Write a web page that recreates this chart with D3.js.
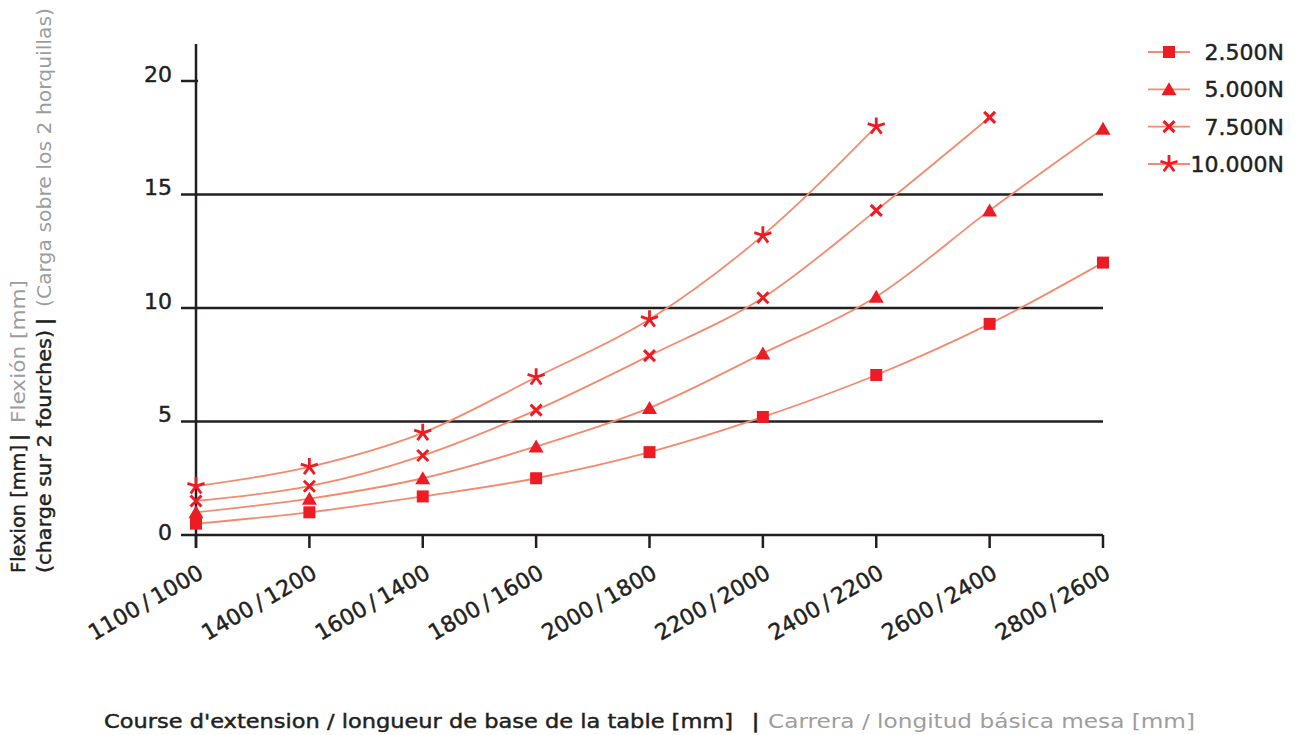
<!DOCTYPE html>
<html>
<head>
<meta charset="utf-8">
<script src="https://cdn.jsdelivr.net/npm/d3@7"></script>
<style>
  body { margin: 0; background: #fff; }
  svg { font-family: "DejaVu Sans", "Liberation Sans", sans-serif; }
  .ink { fill: #231f20; stroke: #231f20; stroke-width: 0.45px; }
</style>
</head>
<body>
<svg width="1297" height="735"></svg>
<script>
const categories = ["1100/1000", "1400/1200", "1600/1400", "1800/1600", "2000/1800", "2200/2000", "2400/2200", "2600/2400", "2800/2600"];
const seriesNames = ["2.500N", "5.000N", "7.500N", "10.000N"];
const s2500 = [0.5, 1.0, 1.7, 2.5, 3.65, 5.2, 7.05, 9.3, 12.0];
const s5000 = [1.0, 1.6, 2.5, 3.9, 5.6, 8.0, 10.5, 14.3, 17.9];
const s7500 = [1.5, 2.15, 3.5, 5.5, 7.9, 10.45, 14.3, 18.4];
const s10000 = [2.15, 3.0, 4.5, 6.95, 9.5, 13.2, 18.0];
const yTicks = [0, 5, 10, 15, 20];

const seriesList = [s2500, s5000, s7500, s10000];
const markers = ["square", "triangle", "cross", "star"];

const ink = "#231f20";
const lineColor = "#f58a6e";
const markColor = "#ed1c24";
const grey = "#9d9d9d";

const svg = d3.select("svg");

const x = d3.scalePoint().domain(categories).range([196, 1103]);
const y = d3.scaleLinear().domain([0, 20]).range([535, 81]);

// grid lines with left tick stubs
svg.append("g").selectAll("line")
    .data(yTicks.filter(d => d > 0 && d < 20))
    .enter().append("line")
    .attr("x1", 181).attr("x2", 1103)
    .attr("y1", d => y(d)).attr("y2", d => y(d))
    .attr("stroke", ink).attr("stroke-width", 2.5);

// tick at 20
svg.append("line")
    .attr("x1", 181).attr("x2", 198)
    .attr("y1", y(20)).attr("y2", y(20))
    .attr("stroke", ink).attr("stroke-width", 2.5);

// y axis line
svg.append("line")
    .attr("x1", x(categories[0])).attr("x2", x(categories[0]))
    .attr("y1", 44).attr("y2", 548)
    .attr("stroke", ink).attr("stroke-width", 2.5);

// x axis line
svg.append("line")
    .attr("x1", 181).attr("x2", 1103)
    .attr("y1", y(0)).attr("y2", y(0))
    .attr("stroke", ink).attr("stroke-width", 2.5);

// x ticks
svg.append("g").selectAll("line")
    .data(categories)
    .enter().append("line")
    .attr("x1", d => x(d)).attr("x2", d => x(d))
    .attr("y1", y(0)).attr("y2", 548)
    .attr("stroke", ink).attr("stroke-width", 2.5);

// y tick labels
svg.append("g").selectAll("text")
    .data(yTicks)
    .enter().append("text")
    .attr("class", "ink")
    .attr("x", 172)
    .attr("y", d => y(d) - (d === 0 ? 3 : 7))
    .attr("dy", "0.36em")
    .attr("text-anchor", "end")
    .attr("font-size", 22)
    .text(d => d);

// x tick labels
svg.append("g").selectAll("text")
    .data(categories)
    .enter().append("text")
    .attr("class", "ink")
    .attr("transform", d => `translate(${x(d) + 9},${y(0) + 42}) rotate(-30)`)
    .attr("text-anchor", "end")
    .attr("font-size", 22)
    .text(d => d.replace("/", "\u2009/\u2009"));

// lines
const line = d3.line()
    .x((d, i) => x(categories[i]))
    .y(d => y(d))
    .curve(d3.curveMonotoneX);

svg.append("g").selectAll("path")
    .data(seriesList)
    .enter().append("path")
    .attr("d", d => line(d))
    .attr("fill", "none")
    .attr("stroke", lineColor)
    .attr("stroke-width", 1.8);

function starPath(r) {
    let p = "";
    for (let k = 0; k < 5; k++) {
        const a = (-90 + k * 72) * Math.PI / 180;
        p += `M0,0L${(r * Math.cos(a)).toFixed(2)},${(r * Math.sin(a)).toFixed(2)}`;
    }
    return p;
}

function drawMarker(g, type) {
    if (type === "square") {
        g.append("rect").attr("x", -6).attr("y", -6).attr("width", 12).attr("height", 12).attr("fill", markColor);
    } else if (type === "triangle") {
        g.append("path").attr("d", "M0,-7L7.5,6L-7.5,6Z").attr("fill", markColor);
    } else if (type === "cross") {
        g.append("path").attr("d", "M-5.5,-5.5L5.5,5.5M-5.5,5.5L5.5,-5.5")
            .attr("stroke", markColor).attr("stroke-width", 3).attr("fill", "none");
    } else {
        g.append("path").attr("d", starPath(9))
            .attr("stroke", markColor).attr("stroke-width", 2.8).attr("fill", "none");
    }
}

seriesList.forEach((vals, si) => {
    const g = svg.append("g");
    vals.forEach((v, i) => {
        const m = g.append("g").attr("transform", `translate(${x(categories[i])},${y(v)})`);
        drawMarker(m, markers[si]);
    });
});

// legend
const legendY = d3.scalePoint().domain(seriesNames).range([52, 164]);
seriesNames.forEach((name, si) => {
    const ly = legendY(name);
    svg.append("line").attr("x1", 1148).attr("x2", 1190).attr("y1", ly).attr("y2", ly)
        .attr("stroke", lineColor).attr("stroke-width", 1.8);
    drawMarker(svg.append("g").attr("transform", `translate(1169,${ly})`), markers[si]);
    svg.append("text").attr("class", "ink").attr("x", 1284).attr("y", ly).attr("dy", "0.36em")
        .attr("text-anchor", "end").attr("font-size", 22).text(name);
});

// title pieces
function titlePart(tr, txt, color, len) {
    const t = svg.append("text")
        .attr("transform", tr)
        .attr("font-size", 19.5)
        .text(txt);
    if (color === ink) t.attr("class", "ink");
    else t.attr("fill", color);
    if (len) t.attr("textLength", len).attr("lengthAdjust", "spacingAndGlyphs");
    else t.attr("font-weight", "bold");
}

// y axis title, two rotated lines
titlePart("translate(25,573) rotate(-90)", "Flexion [mm]", ink, 128);
titlePart("translate(25,441) rotate(-90)", "|", ink, 0);
titlePart("translate(25,423) rotate(-90)", "Flexión [mm]", grey, 143);
titlePart("translate(51,573) rotate(-90)", "(charge sur 2 fourches)", ink, 243);
titlePart("translate(51,325) rotate(-90)", "|", ink, 0);
titlePart("translate(51,307) rotate(-90)", "(Carga sobre los 2 horquillas)", grey, 299);

// x axis title
titlePart("translate(104,728)", "Course d'extension / longueur de base de la table [mm]", ink, 629);
titlePart("translate(752,728)", "|", ink, 0);
titlePart("translate(768,728)", "Carrera / longitud básica mesa [mm]", grey, 427);
</script>
</body>
</html>
